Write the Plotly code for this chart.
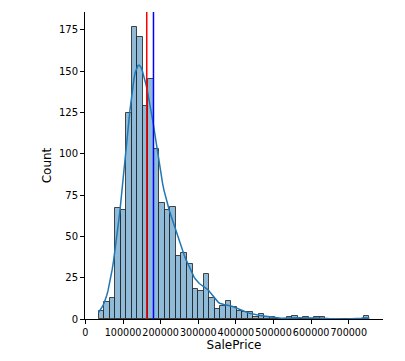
import numpy as np
import plotly.graph_objects as go

# Histogram of SalePrice (49 bins from min to max)
price_min = 34900
price_max = 755000
counts = [5, 10, 13, 67, 66, 125, 177, 171, 129, 145, 103, 70, 66, 68, 38, 40,
          33, 18, 17, 27, 13, 6, 8, 11, 7, 5, 4, 4, 1, 3, 1, 1, 0, 0, 1, 2, 0,
          1, 0, 1, 1, 0, 0, 0, 0, 0, 0, 0, 2]
mean_price = 180921
median_price = 163000
x_ticks = [0, 100000, 200000, 300000, 400000, 500000, 600000, 700000]
y_ticks = [0, 25, 50, 75, 100, 125, 150, 175]

n_bins = len(counts)
edges = np.linspace(price_min, price_max, n_bins + 1)
width = edges[1] - edges[0]
centers = (edges[:-1] + edges[1:]) / 2
counts_arr = np.array(counts, dtype=float)
n = counts_arr.sum()

# KDE estimated from the binned data (scott bandwidth), scaled to counts
mu = np.sum(centers * counts_arr) / n
sd = np.sqrt(np.sum(counts_arr * (centers - mu) ** 2) / n)
bw = sd * n ** (-1 / 5)
bw = np.sqrt(max(bw ** 2 - width ** 2 / 12, 1))
grid = np.linspace(price_min, price_max, 200)
dens = np.zeros_like(grid)
for c, w in zip(centers, counts_arr):
    dens += w * np.exp(-0.5 * ((grid - c) / bw) ** 2)
dens = dens / (n * bw * np.sqrt(2 * np.pi))
kde_counts = dens * n * width

fig = go.Figure()
fig.add_trace(go.Bar(
    x=centers, y=counts, width=width,
    marker=dict(color="rgba(31,119,180,0.5)",
                line=dict(color="rgba(40,40,40,0.85)", width=1)),
    hoverinfo="skip", showlegend=False))
fig.add_trace(go.Scatter(
    x=grid, y=kde_counts, mode="lines",
    line=dict(color="#1f77b4", width=1.5), showlegend=False))

ymax = max(counts) * 1.05
for val, col in [(median_price, "red"), (mean_price, "blue")]:
    fig.add_trace(go.Scatter(x=[val, val], y=[0, ymax], mode="lines",
                             line=dict(color=col, width=1.5), showlegend=False))

xr = price_max - price_min
fig.update_layout(
    width=405, height=361,
    margin=dict(l=85, r=22, t=12, b=42),
    paper_bgcolor="white", plot_bgcolor="white",
    bargap=0,
    font=dict(family="DejaVu Sans", size=10, color="black"),
    xaxis=dict(range=[price_min - 0.05 * xr, price_max + 0.05 * xr],
               tickvals=x_ticks, ticktext=[str(v) for v in x_ticks],
               tickangle=0, automargin=False,
               tickfont=dict(size=9.6),
               showgrid=False, zeroline=False, showline=True,
               linecolor="black", linewidth=1, ticks="outside",
               ticklen=4, tickcolor="black",
               title=dict(text="SalePrice", standoff=4)),
    yaxis=dict(range=[0, ymax], tickvals=y_ticks, automargin=False,
               showgrid=False, zeroline=False, showline=True,
               linecolor="black", linewidth=1, ticks="outside",
               ticklen=4, tickcolor="black",
               title=dict(text="Count", standoff=4)),
)
fig.write_html("out.html", config={"displayModeBar": False},
               post_script="document.body.style.margin='0';document.body.style.padding='0';")
